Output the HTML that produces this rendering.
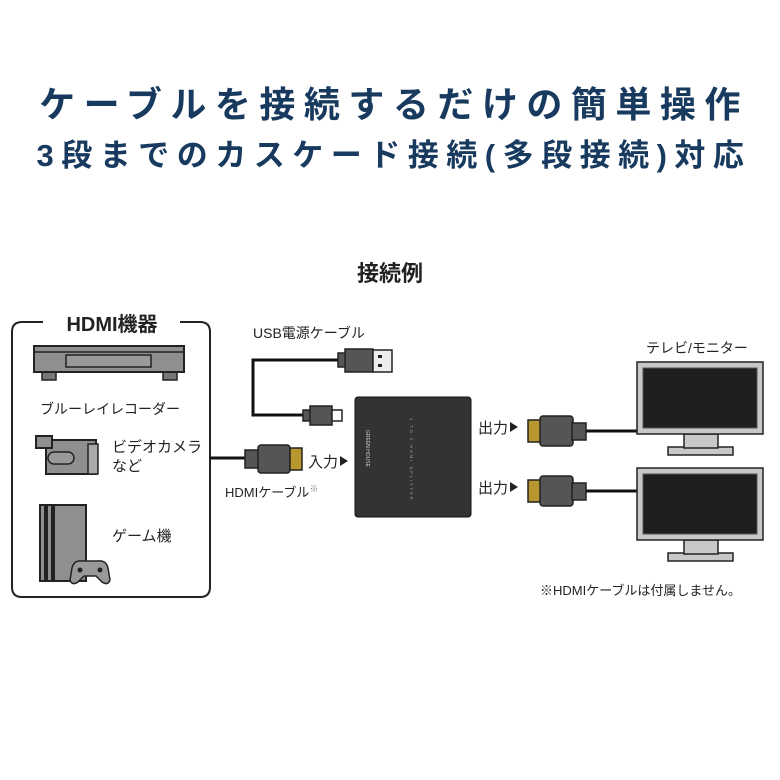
<!DOCTYPE html>
<html><head><meta charset="utf-8"><style>
body{margin:0;background:#fff;}
svg{display:block;font-family:"Liberation Sans","Noto Sans CJK JP",sans-serif;}
</style></head><body>
<svg width="780" height="780" viewBox="0 0 780 780">
<text x="394" y="117" text-anchor="middle" font-size="36" font-weight="bold" fill="#173a5e" letter-spacing="8.5">ケーブルを接続するだけの簡単操作</text>
<text x="394" y="166" text-anchor="middle" font-size="31" font-weight="bold" fill="#173a5e" letter-spacing="7.5">3段までのカスケード接続(多段接続)対応</text>
<text x="390" y="281" text-anchor="middle" font-size="22" font-weight="bold" fill="#222">接続例</text>

<!-- HDMI box -->
<path d="M43 322 H22 Q12 322 12 332 V587 Q12 597 22 597 H200 Q210 597 210 587 V332 Q210 322 200 322 H180" fill="none" stroke="#222" stroke-width="2"/>
<text x="112" y="331" text-anchor="middle" font-size="20" font-weight="bold" fill="#222">HDMI機器</text>

<!-- blu-ray -->
<rect x="42" y="370" width="14" height="10" fill="#777" stroke="#222" stroke-width="1.5"/>
<rect x="163" y="370" width="14" height="10" fill="#777" stroke="#222" stroke-width="1.5"/>
<rect x="34" y="346" width="150" height="26" fill="#8f8f8f" stroke="#222" stroke-width="2"/>
<line x1="34" y1="352" x2="184" y2="352" stroke="#222" stroke-width="1.5"/>
<rect x="66" y="355" width="85" height="12" fill="#999" stroke="#222" stroke-width="1.5"/>
<text x="40" y="414" font-size="14" fill="#222">ブルーレイレコーダー</text>

<!-- camcorder -->
<rect x="46" y="440" width="50" height="34" fill="#8f8f8f" stroke="#222" stroke-width="2"/>
<rect x="36" y="436" width="16" height="12" fill="#8f8f8f" stroke="#222" stroke-width="2"/>
<rect x="48" y="452" width="26" height="12" rx="6" fill="#999" stroke="#222" stroke-width="1.5"/>
<rect x="88" y="444" width="10" height="30" fill="#aaa" stroke="#222" stroke-width="1.5"/>
<text x="112" y="452" font-size="15" fill="#222">ビデオカメラ</text>
<text x="112" y="471" font-size="15" fill="#222">など</text>

<!-- game console -->
<rect x="40" y="505" width="46" height="76" fill="#8f8f8f" stroke="#222" stroke-width="2"/>
<rect x="44" y="505" width="4" height="76" fill="#222"/>
<rect x="51" y="505" width="4" height="76" fill="#222"/>
<path d="M72 568 Q74 560 82 561 H98 Q106 560 108 568 L110 580 Q108 586 102 582 L96 576 H84 L78 582 Q72 586 70 580 Z" fill="#999" stroke="#222" stroke-width="1.5"/>
<circle cx="80" cy="570" r="2.5" fill="#222"/><circle cx="100" cy="570" r="2.5" fill="#222"/>
<text x="112" y="541" font-size="15" fill="#222">ゲーム機</text>

<!-- input HDMI cable -->
<line x1="210" y1="458" x2="250" y2="458" stroke="#111" stroke-width="3"/>
<rect x="245" y="450" width="14" height="18" fill="#555" stroke="#222" stroke-width="1.5"/>
<rect x="258" y="445" width="32" height="28" rx="3" fill="#555" stroke="#222" stroke-width="1.5"/>
<rect x="290" y="448" width="12" height="22" fill="#b8972e" stroke="#222" stroke-width="1.5"/>
<text x="308" y="467" font-size="15" fill="#222">入力</text>
<path d="M340 456 L348 461 L340 466 Z" fill="#222"/>
<text x="225" y="497" font-size="13" fill="#222">HDMIケーブル<tspan font-size="9" dy="-5" fill="#888">※</tspan></text>

<!-- USB cable -->
<text x="253" y="338" font-size="14" fill="#222">USB電源ケーブル</text>
<polyline points="340,360 253,360 253,415 305,415" fill="none" stroke="#111" stroke-width="3"/>
<rect x="338" y="353" width="8" height="14" fill="#555" stroke="#222" stroke-width="1.5"/>
<rect x="345" y="349" width="28" height="23" fill="#555" stroke="#222" stroke-width="1.5"/>
<rect x="373" y="350" width="19" height="22" fill="#eee" stroke="#222" stroke-width="1.5"/>
<rect x="378" y="355" width="4" height="3" fill="#222"/><rect x="378" y="364" width="4" height="3" fill="#222"/>
<rect x="303" y="410" width="8" height="11" fill="#555" stroke="#222" stroke-width="1.5"/>
<rect x="310" y="406" width="22" height="19" fill="#555" stroke="#222" stroke-width="1.5"/>
<rect x="332" y="410" width="10" height="11" fill="#fff" stroke="#222" stroke-width="1.5"/>

<!-- splitter -->
<rect x="355" y="397" width="116" height="120" rx="3" fill="#333" stroke="#111" stroke-width="1"/>
<text x="0" y="0" font-size="5" fill="#ccc" transform="translate(366,430) rotate(90)">GREEN HOUSE</text>
<text x="0" y="0" font-size="4" fill="#aaa" letter-spacing="2" transform="translate(410,418) rotate(90)">1 TO 2 HDMI SPLITTER</text>

<!-- outputs -->
<g id="o1">
<text x="478" y="433" font-size="15" fill="#222">出力</text>
<path d="M510 422 L518 427 L510 432 Z" fill="#222"/>
<line x1="585" y1="431" x2="640" y2="431" stroke="#111" stroke-width="3"/>
<rect x="528" y="420" width="13" height="22" fill="#b8972e" stroke="#222" stroke-width="1.5"/>
<rect x="540" y="416" width="33" height="30" rx="3" fill="#555" stroke="#222" stroke-width="1.5"/>
<rect x="572" y="423" width="14" height="17" fill="#555" stroke="#222" stroke-width="1.5"/>
</g>
<use href="#o1" y="60"/>

<!-- monitors -->
<g id="m1">
<rect x="668" y="447" width="65" height="8" fill="#c8c8c8" stroke="#222" stroke-width="1.5"/>
<rect x="684" y="434" width="34" height="14" fill="#c8c8c8" stroke="#222" stroke-width="1.5"/>
<rect x="637" y="362" width="126" height="72" fill="#c8c8c8" stroke="#222" stroke-width="1.5"/>
<rect x="643" y="368" width="114" height="60" fill="#1e1e1e" stroke="#555" stroke-width="1"/>
</g>
<use href="#m1" y="106"/>
<text x="646" y="353" font-size="14" fill="#222">テレビ/モニター</text>
<text x="540" y="595" font-size="13" fill="#222">※HDMIケーブルは付属しません。</text>
</svg>
</body></html>
